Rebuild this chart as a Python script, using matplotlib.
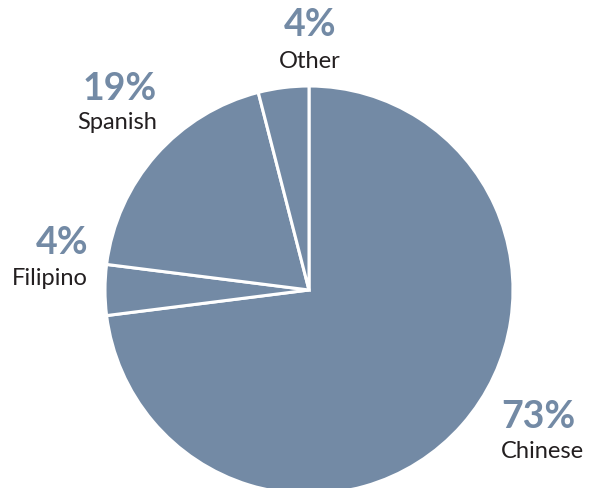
import matplotlib.pyplot as plt

# share of speakers by language
languages = ['Chinese', 'Filipino', 'Spanish', 'Other']
shares = [73, 4, 19, 4]

slate = '#738aa5'
dark = '#231f20'
plt.rcParams['font.family'] = ['Lato', 'DejaVu Sans']

fig = plt.figure(figsize=(5.91, 4.89), dpi=100)
ax = fig.add_axes([0, 0, 1, 1])

H = 489  # work in pixel units, y measured from the top
ax.pie(shares, startangle=90, counterclock=False,
       center=(309, H - 291), radius=204,
       colors=[slate] * len(shares),
       wedgeprops=dict(edgecolor='white', linewidth=2.2))
ax.set_xlim(0, 591)
ax.set_ylim(0, H)
ax.set_aspect('equal')
ax.axis('off')

# label positions: (x, baseline of percent, baseline of name, alignment)
label_pos = {
    'Chinese': (501, 428, 458, 'left'),
    'Filipino': (88, 254, 285, 'right'),
    'Spanish': (157, 100, 129, 'right'),
    'Other': (310, 36, 68, 'center'),
}
for name, val in zip(languages, shares):
    x, yp, yn, ha = label_pos[name]
    ax.text(x, H - yp, f'{val}%', ha=ha, va='baseline', fontsize=27,
            fontweight='bold', color=slate)
    ax.text(x, H - yn, name, ha=ha, va='baseline', fontsize=17, color=dark)

plt.savefig('out.png', dpi=100)
